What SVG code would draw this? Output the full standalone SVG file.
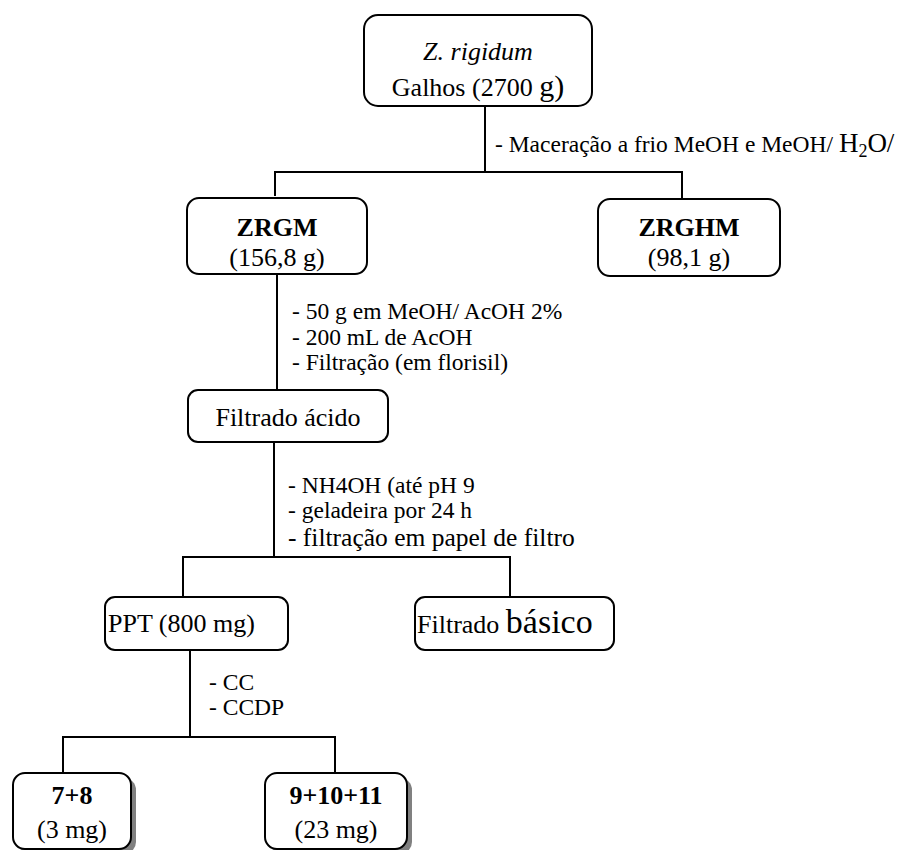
<svg xmlns="http://www.w3.org/2000/svg" width="904" height="850" viewBox="0 0 904 850" font-family="'Liberation Serif', 'DejaVu Serif', serif">
<defs>
<style>
.box{fill:#fff;stroke:#000;stroke-width:2}
.sh{fill:#808080}
.ln{stroke:#000;stroke-width:2;fill:none}
.t{font-family:'Liberation Serif','DejaVu Serif',serif;fill:#000}
.n{font-size:26px}
.c{text-anchor:middle}
.b{font-weight:bold}
.l{font-size:23.5px}
</style>
</defs>
<rect width="904" height="850" fill="#fff"/>
<g id="connectors">
<path class="ln" d="M485 106V172M275 196V172H682V199"/>
<path class="ln" d="M277 274V390"/>
<path class="ln" d="M274 442V557M183 597V557H510V597"/>
<path class="ln" d="M190 650V737M63 773V737H335V773"/>
<text class="t l" x="495" y="152">- Maceração a frio MeOH e MeOH/ <tspan font-size="27">H</tspan><tspan font-size="18" dy="5">2</tspan><tspan font-size="27" dy="-5">O/</tspan></text>
<text class="t l" x="292" y="319">- 50 g em MeOH/ AcOH 2%</text>
<text class="t l" x="292" y="345">- 200 mL de AcOH</text>
<text class="t l" x="292" y="370">- Filtração (em florisil)</text>
<text class="t l" x="288" y="493">- NH4OH (até pH 9</text>
<text class="t l" x="288" y="518">- geladeira por 24 h</text>
<text class="t l" x="288" y="546" style="font-size:25.5px">- filtração em papel de filtro</text>
<text class="t l" x="209" y="690">- CC</text>
<text class="t l" x="209" y="715">- CCDP</text>
</g>
<g id="n-zrigidum">
<rect class="box" x="364" y="15" width="228" height="91" rx="14"/>
<text class="t n c" x="478" y="60" font-style="italic">Z. rigidum</text>
<text class="t n c" x="478" y="96">Galhos (2700 <tspan font-size="30">g)</tspan></text>
</g>
<g id="n-zrgm">
<rect class="box" x="187" y="198" width="180" height="76" rx="12"/>
<text class="t n c b" x="277" y="236">ZRGM</text>
<text class="t n c" x="277" y="266">(156,8 g)</text>
</g>
<g id="n-zrghm">
<rect class="box" x="598" y="199" width="182" height="77" rx="12"/>
<text class="t n c b" x="689" y="236">ZRGHM</text>
<text class="t n c" x="689" y="266">(98,1 g)</text>
</g>
<g id="n-filtrado-acido">
<rect class="box" x="188" y="390" width="200" height="52" rx="10"/>
<text class="t n c" x="288" y="426">Filtrado ácido</text>
</g>
<g id="n-ppt">
<rect class="box" x="105" y="597" width="183" height="53" rx="10"/>
<text class="t n" x="108" y="632">PPT (800 mg)</text>
</g>
<g id="n-filtrado-basico">
<rect class="box" x="415" y="597" width="199" height="53" rx="10"/>
<text class="t n" x="417" y="633">Filtrado <tspan font-size="34">básico</tspan></text>
</g>
<g id="n-7-8">
<rect class="sh" x="18" y="778" width="118" height="76" rx="12"/>
<rect class="box" x="13" y="773" width="118" height="76" rx="12"/>
<text class="t n c b" x="72" y="804">7+8</text>
<text class="t n c" x="72" y="838">(3 mg)</text>
</g>
<g id="n-9-10-11">
<rect class="sh" x="270" y="778" width="142" height="76" rx="12"/>
<rect class="box" x="265" y="773" width="142" height="76" rx="12"/>
<text class="t n c b" x="336" y="804">9+10+11</text>
<text class="t n c" x="336" y="838">(23 mg)</text>
</g>
</svg>
